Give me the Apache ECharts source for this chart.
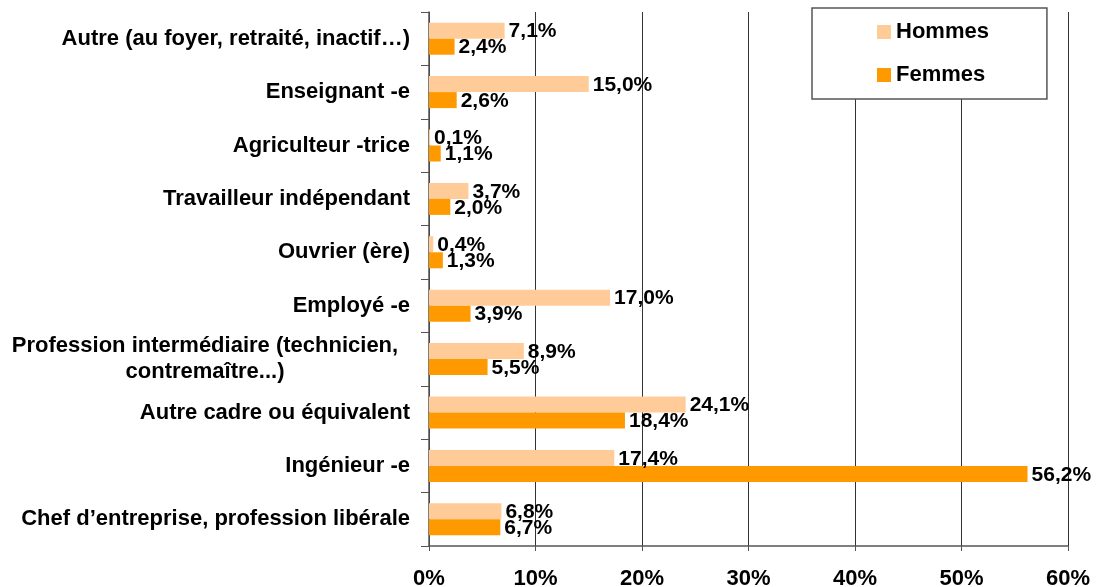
<!DOCTYPE html>
<html lang="fr">
<head>
    <meta charset="UTF-8">
    <title>Professions</title>
    <script type="text/javascript" src="https://cdn.jsdelivr.net/npm/echarts@6/dist/echarts.min.js"></script>
</head>
<body style="margin: 0">
    <div id="main" style="width: 1099px; height: 587px"></div>
    <script type="text/javascript">
        var categories = [
            'Autre (au foyer, retraité, inactif…)',
            'Enseignant -e',
            'Agriculteur -trice',
            'Travailleur indépendant',
            'Ouvrier (ère)',
            'Employé -e',
            'Profession intermédiaire (technicien,\ncontremaître...)',
            'Autre cadre ou équivalent',
            'Ingénieur -e',
            'Chef d’entreprise, profession libérale'
        ];
        var hommes = [7.1, 15.0, 0.1, 3.7, 0.4, 17.0, 8.9, 24.1, 17.4, 6.8];
        var femmes = [2.4, 2.6, 1.1, 2.0, 1.3, 3.9, 5.5, 18.4, 56.2, 6.7];

        var font = 'Liberation Sans, Arial, sans-serif';

        function pct(p) {
            return p.value.toFixed(1).replace('.', ',') + '%';
        }

        var valueLabel = {
            show: true,
            position: 'right',
            distance: 4,
            offset: [0, 1],
            formatter: pct,
            color: '#000',
            fontFamily: font,
            fontWeight: 'bold',
            fontSize: 21
        };

        var myChart = echarts.init(document.getElementById('main'));
        myChart.setOption({
            animation: false,
            grid: {
                left: 429,
                right: 31,
                top: 12,
                bottom: 41,
                outerBoundsMode: 'none'
            },
            legend: {
                orient: 'vertical',
                left: 812,
                top: 8,
                padding: [13, 58, 13, 65],
                itemGap: 21,
                itemWidth: 14,
                itemHeight: 14,
                icon: 'rect',
                borderColor: '#555',
                borderWidth: 1.5,
                backgroundColor: '#fff',
                textStyle: {
                    fontFamily: font,
                    fontWeight: 'bold',
                    fontSize: 22,
                    color: '#000'
                },
                data: ['Hommes', 'Femmes']
            },
            xAxis: {
                type: 'value',
                min: 0,
                max: 60,
                interval: 10,
                axisLine: {
                    show: true,
                    lineStyle: { color: '#555', width: 1.5 }
                },
                axisTick: {
                    show: true,
                    length: 5,
                    lineStyle: { color: '#555' }
                },
                axisLabel: {
                    margin: 22,
                    formatter: '{value}%',
                    color: '#000',
                    fontFamily: font,
                    fontWeight: 'bold',
                    fontSize: 22
                },
                splitLine: {
                    show: true,
                    lineStyle: { color: '#333', width: 1 }
                }
            },
            yAxis: {
                type: 'category',
                inverse: true,
                data: categories,
                axisLine: {
                    show: true,
                    lineStyle: { color: '#555', width: 1.5 }
                },
                axisTick: {
                    show: true,
                    length: 8,
                    lineStyle: { color: '#555' }
                },
                axisLabel: {
                    margin: 19,
                    color: '#000',
                    fontFamily: font,
                    fontWeight: 'bold',
                    fontSize: 22,
                    lineHeight: 26,
                    formatter: function (v) {
                        if (v.indexOf('\n') >= 0) {
                            return v.split('\n').map(function (s) {
                                return '{c|' + s + '}';
                            }).join('\n');
                        }
                        return v;
                    },
                    rich: {
                        c: {
                            width: 410,
                            align: 'center',
                            fontFamily: font,
                            fontWeight: 'bold',
                            fontSize: 22,
                            lineHeight: 26,
                            color: '#000'
                        }
                    }
                }
            },
            series: [{
                name: 'Hommes',
                type: 'bar',
                data: hommes,
                barWidth: 16,
                barGap: '0%',
                itemStyle: { color: '#FFCC99' },
                label: valueLabel
            }, {
                name: 'Femmes',
                type: 'bar',
                data: femmes,
                barWidth: 16,
                barGap: '0%',
                itemStyle: { color: '#FF9900' },
                label: valueLabel
            }]
        });
    </script>
</body>
</html>
